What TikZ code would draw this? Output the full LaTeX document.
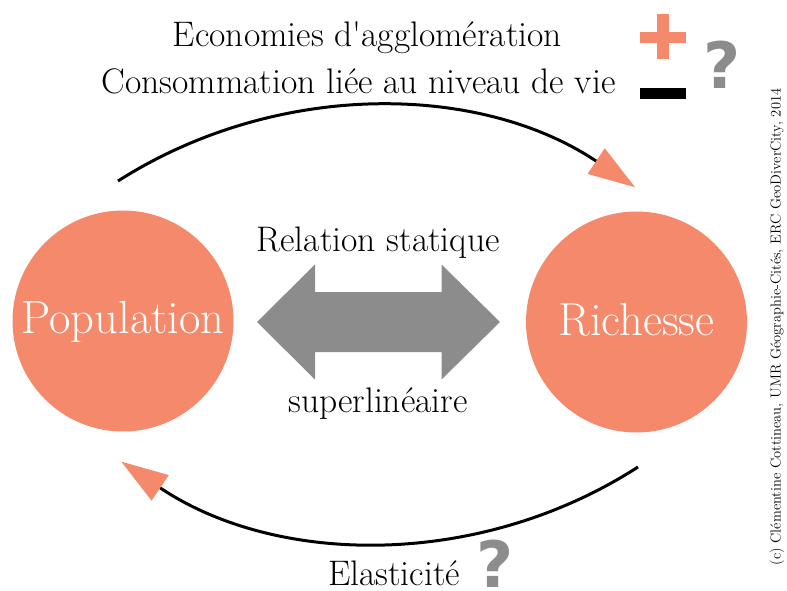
\documentclass[tikz,border=0pt]{standalone}
\usepackage{fontspec}
\newfontfamily\qfont{DejaVu Sans}
\usetikzlibrary{arrows.meta}
\definecolor{salmon}{HTML}{F4896B}
\definecolor{midgray}{HTML}{8C8C8C}
\tikzset{
  lbl/.style={inner sep=0pt, anchor=base, font=\fontsize{35.5}{42}\selectfont},
  circ/.style={circle, fill=salmon, minimum size=221pt, inner sep=0pt},
  circlbl/.style={inner sep=0pt, anchor=base, text=white, font=\fontsize{46.5}{54}\selectfont},
  qmark/.style={inner sep=0pt, anchor=base, text depth=0pt, text=midgray, font=\qfont\bfseries\fontsize{64}{70}\selectfont},
  loop/.style={line width=3pt, black, -{Triangle[length=47pt,width=30pt,color=salmon]}}
}
\begin{document}
\begin{tikzpicture}[x=1pt,y=1pt]
\useasboundingbox (0,0) rectangle (787,-591);
% circles
\node[circ] (pop) at (123,-321) {};
\node[circ] (rich) at (636.5,-322) {};
\node[circlbl] (poplbl) at (123,-333) {Population};
\node[circlbl] (richlbl) at (636.5,-335) {Richesse};
% double arrow
\coordinate (dl) at (257,-322);
\coordinate (dr) at (500,-322);
\fill[midgray] (dl) -- (315,-264.5) -- (315,-292) -- (441.5,-292) -- (441.5,-264.5)
  -- (dr) -- (441.5,-379.5) -- (441.5,-352) -- (315,-352) -- (315,-379.5) -- cycle;
\node[lbl] (rel) at (378,-251) {Relation statique};
\node[lbl] (sup) at (378,-412) {superlinéaire};
% top texts
\node[lbl] (eco) at (367.5,-47) {Economies d\textquotesingle agglomération};
\node[lbl] (cons) at (358.5,-94) {Consommation liée au niveau de vie};
\fill[salmon] (640,-32) rectangle (686,-43);
\fill[salmon] (657,-14) rectangle (669,-59);
\fill[black] (640,-88) rectangle (686,-99);
\node[qmark] (q1) at (722,-89) {?};
% arcs
\coordinate (topstart) at (118,-181);
\draw[loop] (topstart) arc[start angle=122.5, end angle=56.1, radius=472.3];
\coordinate (botstart) at (638,-467);
\draw[loop] (botstart) arc[start angle=-57.2, end angle=-124, radius=469.4];
% bottom text
\node[lbl, anchor=base west] (ela) at (328,-585) {Elasticité};
\node[qmark] (q2) at (495.5,-587) {?};
% copyright
\node[rotate=90, inner sep=0pt, font=\fontsize{14.5}{16}\selectfont] (copy) at (777,-327)
  {(c) Clémentine Cottineau, UMR Géographie-Cités, ERC GeoDiverCity, 2014};
\end{tikzpicture}
\end{document}
